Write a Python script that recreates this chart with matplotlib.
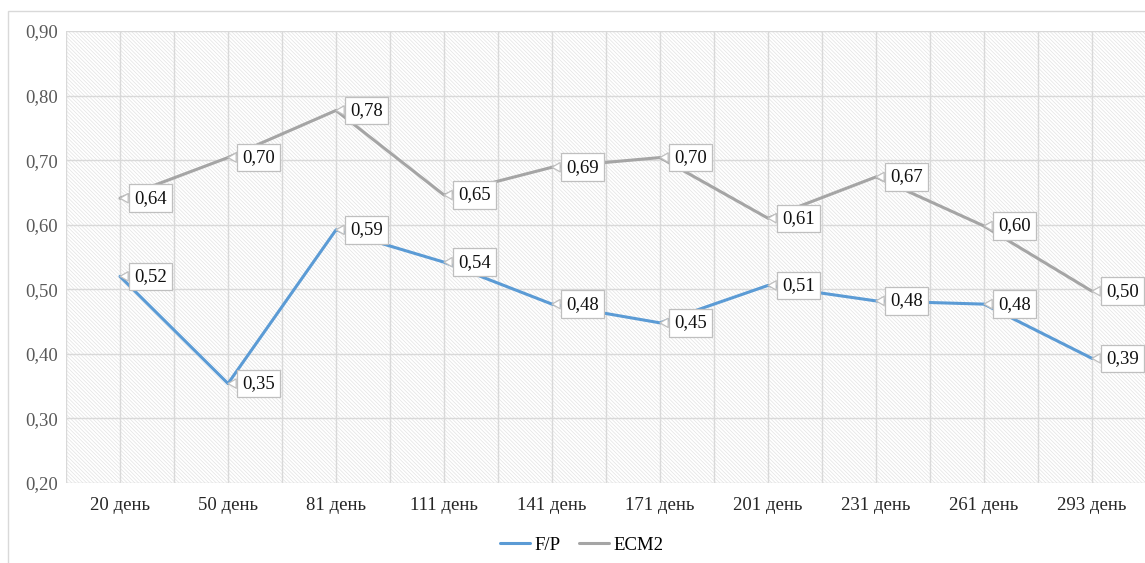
import matplotlib
matplotlib.use("Agg")
import matplotlib.pyplot as plt
from matplotlib.patches import Rectangle
from matplotlib.ticker import FixedLocator, FuncFormatter

# Data
days = ["20 день", "50 день", "81 день", "111 день", "141 день",
        "171 день", "201 день", "231 день", "261 день", "293 день"]
fp_values = [0.52, 0.354, 0.592, 0.542, 0.477, 0.448, 0.506, 0.482, 0.477, 0.393]
ecm2_values = [0.641, 0.704, 0.777, 0.646, 0.689, 0.704, 0.610, 0.674, 0.598, 0.497]
series_names = ["F/P", "ECM2"]
y_ticks = [0.20, 0.30, 0.40, 0.50, 0.60, 0.70, 0.80, 0.90]

BLUE = "#5B9BD5"
GRAY = "#A5A5A5"
GRID = "#d9d9d9"
FONT = "Liberation Serif"
FS = 13.5

plt.rcParams["font.family"] = [FONT, "DejaVu Serif"]
plt.rcParams["hatch.linewidth"] = 0.5

W, H = 1145, 563
fig = plt.figure(figsize=(W / 100, H / 100), dpi=100)
fig.patch.set_facecolor("white")

# Outer chart frame
fig.patches.append(Rectangle((8 / W, -0.02), 1.2, (H - 11) / H + 0.02,
                             transform=fig.transFigure, fill=False,
                             edgecolor=GRID, linewidth=1.0))

ax = fig.add_axes([66 / W, 80 / H, 1080 / W, 452 / H])
ax.set_facecolor("white")

# Hatched plot-area background
ax.add_patch(Rectangle((0, 0), 1, 1, transform=ax.transAxes,
                       facecolor="white", edgecolor="#e3e3e3",
                       linewidth=0, hatch="\\" * 9, zorder=0))

x = list(range(len(days)))
ax.set_xlim(-0.5, len(days) - 0.5)
ax.set_ylim(0.20, 0.90)

# Gridlines
for y in y_ticks:
    ax.axhline(y, color=GRID, linewidth=1.0, zorder=1)
for i in range(len(days) + 1):
    ax.axvline(i - 0.5, color=GRID, linewidth=1.0, zorder=1)
for i in x:
    ax.axvline(i, color=GRID, linewidth=1.0, zorder=1)

for s in ax.spines.values():
    s.set_visible(False)

ax.yaxis.set_major_locator(FixedLocator(y_ticks))
ax.yaxis.set_major_formatter(FuncFormatter(lambda v, p: f"{v:.2f}".replace(".", ",")))
ax.set_xticks(x)
ax.set_xticklabels(days)
ax.tick_params(axis="both", length=0)
ax.tick_params(axis="y", labelsize=FS, labelcolor="#595959", pad=6)
ax.tick_params(axis="x", labelsize=FS, labelcolor="#262626", pad=10)

ax.plot(x, fp_values, color=BLUE, linewidth=2.2, zorder=3, label=series_names[0],
        solid_capstyle="round")
ax.plot(x, ecm2_values, color=GRAY, linewidth=2.2, zorder=3, label=series_names[1],
        solid_capstyle="round")

# Callout data labels
for vals in (fp_values, ecm2_values):
    for i, v in zip(x, vals):
        ax.annotate(f"{v:.2f}".replace(".", ","), xy=(i, v),
                    xytext=(10, 0), textcoords="offset points",
                    ha="left", va="center", fontsize=FS, color="#111111",
                    bbox=dict(boxstyle="square,pad=0.28", fc="white",
                              ec="#bfbfbf", lw=0.9),
                    arrowprops=dict(arrowstyle="wedge,tail_width=0.5",
                                    fc="white", ec="#bfbfbf", lw=0.9,
                                    relpos=(0, 0.5), shrinkA=0, shrinkB=0),
                    zorder=5)

fig.legend(loc="center", bbox_to_anchor=(0.508, 0.032), ncol=2, frameon=False,
           fontsize=FS, handlelength=1.6, columnspacing=1.0, handletextpad=0.25)

fig.savefig("out.png", dpi=100, facecolor="white")
